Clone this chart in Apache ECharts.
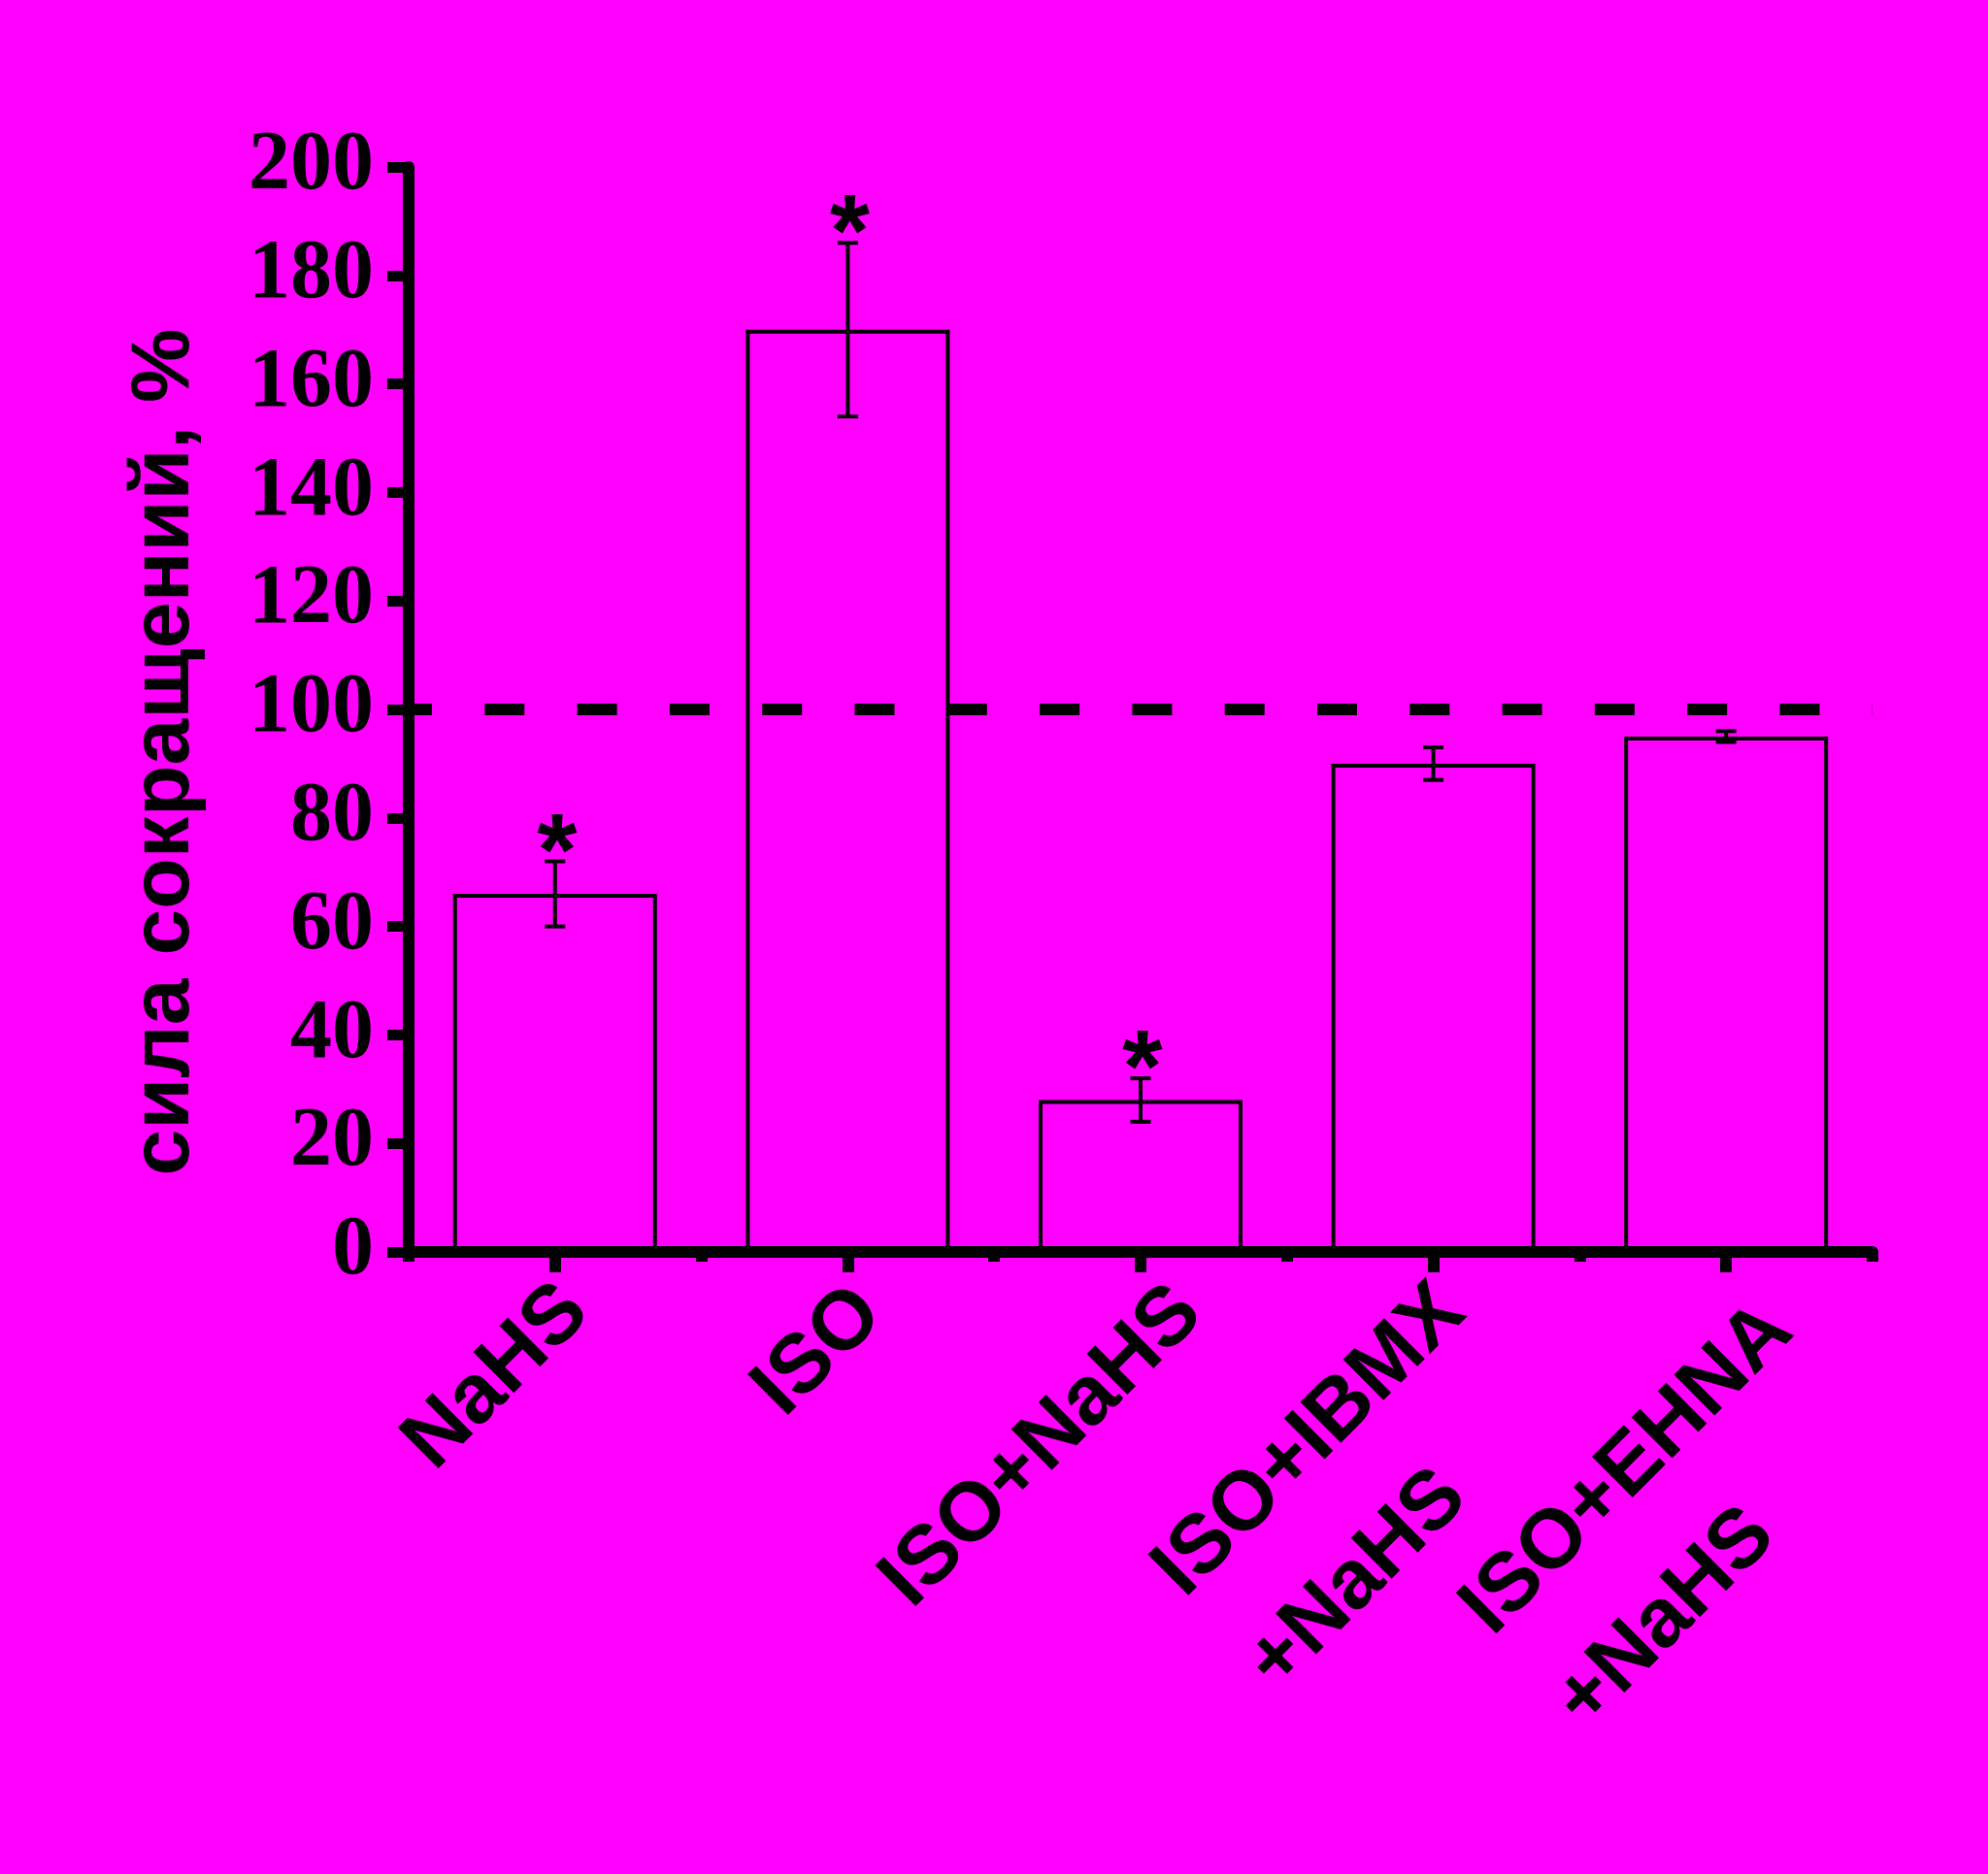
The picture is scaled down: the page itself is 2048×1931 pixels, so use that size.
<!DOCTYPE html>
<html><head><meta charset="utf-8">
<script src="https://cdn.jsdelivr.net/npm/echarts@6/dist/echarts.min.js"></script>
<style>html,body{margin:0;padding:0;background:#ff00ff;} #c{width:2048px;height:1931px;}</style>
</head><body><div id="c"></div>
<script>
// ---- data ----
const categories = ['NaHS', 'ISO', 'ISO+NaHS', 'ISO+IBMX\n+NaHS', 'ISO+EHNA\n+NaHS'];
const means = [66, 170, 28, 90, 95];
const errors = [6, 16, 4, 3, 1];
const significant = [1, 1, 1, 0, 0];
const yMin = 0, yMax = 200, yInterval = 20;
const referenceLevel = 100;
const yTitle = 'сила сокращений, %';
const starText = '*';

// ---- label layout (per-label shifts in rotated label frame) ----
const labelGap = [98, 103, 141, 232, 310];
const labelTail = [19, 20, 0, 21, 9];

const rich = {
  t: {fontSize: 86, fontWeight: 'bold', fontFamily: 'Liberation Sans', lineHeight: 136, align: 'left', color: '#000'}
};
labelGap.forEach((g, i) => {
  rich['g' + i] = {fontSize: 1, lineHeight: g, align: 'left'};
  rich['s' + i] = {fontSize: 1, lineHeight: 1, width: Math.max(labelTail[i], 0.1), align: 'left'};
});

const chart = echarts.init(document.getElementById('c'), null, {renderer: 'canvas'});
const black = '#000';
chart.setOption({
  backgroundColor: '#ff00ff',
  animation: false,
  grid: {left: 421, top: 172, width: 1508, height: 1118, containLabel: false, outerBoundsMode: 'none'},
  xAxis: [{
    type: 'category',
    data: categories,
    position: 'bottom',
    axisLine: {show: true, onZero: false, lineStyle: {color: black, width: 12}},
    axisTick: {show: true, alignWithLabel: true, length: 21, lineStyle: {color: black, width: 12}},
    axisLabel: {
      interval: 0, rotate: 45, margin: 0, hideOverlap: false,
      align: 'right', verticalAlign: 'middle',
      formatter: (value, index) => {
        const lines = value.split('\n');
        let s = '{g' + index + '| }\n';
        s += lines.map((ln, k) => '{t|' + ln + '}' + (k === 0 && labelTail[index] > 0 ? '{s' + index + '| }' : '')).join('\n');
        return s;
      },
      rich: rich
    },
    splitLine: {show: false}
  }, {
    type: 'category',
    data: categories,
    position: 'bottom',
    axisLine: {show: false},
    axisTick: {show: true, alignWithLabel: false, length: 10, lineStyle: {color: black, width: 12}},
    axisLabel: {show: false},
    splitLine: {show: false}
  }],
  yAxis: {
    type: 'value',
    min: yMin, max: yMax, interval: yInterval,
    axisLine: {show: true, lineStyle: {color: black, width: 12}},
    axisTick: {show: true, inside: false, length: 22, lineStyle: {color: black, width: 11}},
    axisLabel: {
      margin: 36, color: black, fontSize: 86, fontWeight: 'bold', fontFamily: 'Liberation Serif',
      padding: [0, 0, 9, 0]
    },
    splitLine: {show: false},
    name: yTitle,
    nameLocation: 'middle',
    nameRotate: 90,
    nameGap: 251,
    nameMoveOverlap: false,
    nameTextStyle: {
      color: black, fontSize: 86, fontWeight: 'bold', fontFamily: 'Liberation Sans',
      align: 'center', verticalAlign: 'middle', padding: [0, 88, 0, 0]
    }
  },
  series: [{
    type: 'bar',
    data: means,
    barWidth: 210,
    itemStyle: {color: 'rgba(0,0,0,0)', borderColor: black, borderWidth: 4},
    emphasis: {disabled: true},
    silent: true,
    markLine: {
      silent: true,
      symbol: ['none', 'none'],
      label: {show: false},
      lineStyle: {color: black, width: 12, type: [41, 54.3], dashOffset: 17, cap: 'butt'},
      emphasis: {disabled: true},
      data: [{yAxis: referenceLevel}]
    },
    z: 2
  }, {
    type: 'custom',
    silent: true,
    z: 5,
    data: categories.map((c, i) => [i, means[i], errors[i], significant[i]]),
    encode: {x: 0, y: 1},
    renderItem: (params, api) => {
      const i = api.value(0), m = api.value(1), e = api.value(2), sig = api.value(3);
      const top = api.coord([i, m + e]);
      const bot = api.coord([i, m - e]);
      const cap = 10.5;
      const st = {stroke: black, lineWidth: 4};
      const children = [
        {type: 'line', shape: {x1: top[0], y1: top[1], x2: bot[0], y2: bot[1]}, style: st},
        {type: 'line', shape: {x1: top[0] - cap, y1: top[1], x2: top[0] + cap, y2: top[1]}, style: st},
        {type: 'line', shape: {x1: bot[0] - cap, y1: bot[1], x2: bot[0] + cap, y2: bot[1]}, style: st}
      ];
      if (sig) {
        children.push({type: 'text', x: top[0] + 2, y: top[1] - 5,
          style: {text: starText, fill: black, font: 'bold 106px "Liberation Sans"', align: 'center', verticalAlign: 'middle'}});
      }
      return {type: 'group', children: children};
    }
  }]
});
</script>
</body></html>
